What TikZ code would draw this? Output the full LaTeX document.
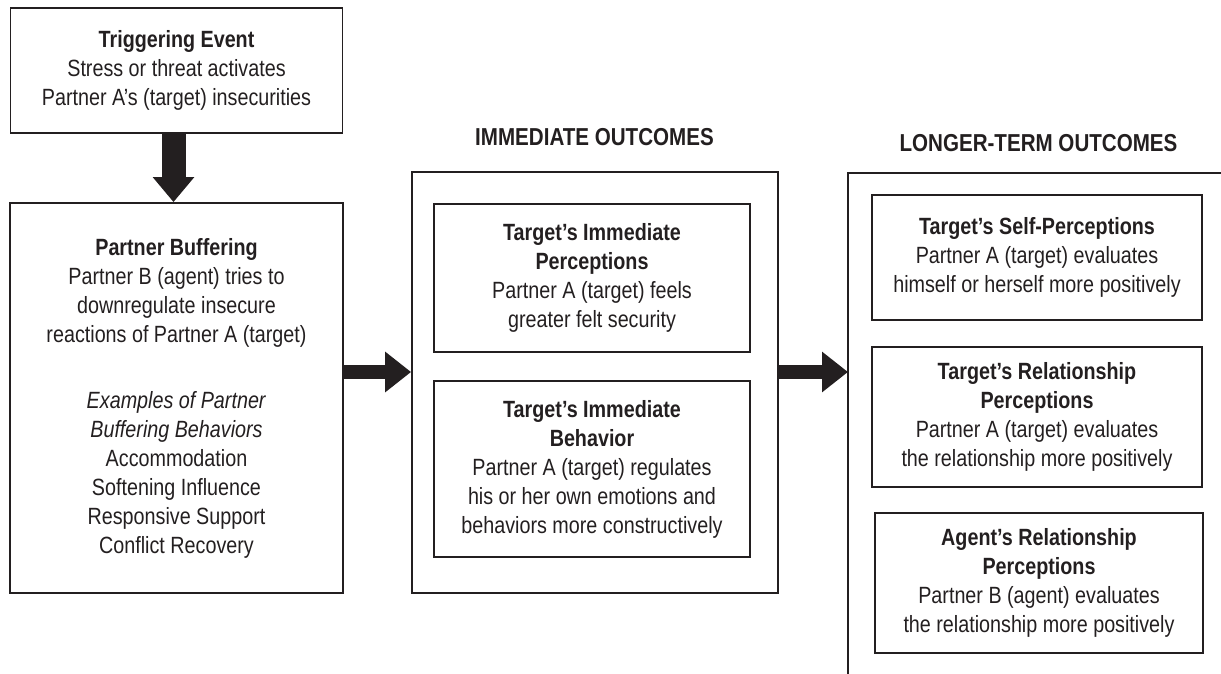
\documentclass[tikz,border=0pt]{standalone}
\usepackage{fontspec}
\setmainfont{Liberation Sans}[FakeStretch=0.84]
\usetikzlibrary{arrows.meta,%
	positioning%
}
\definecolor{ink}{HTML}{231F20}

\begin{document}
\begin{tikzpicture}[x=1pt, y=-1pt, color=ink, font=\fontsize{23.5}{29}\selectfont]
	\useasboundingbox (0,0) rectangle (1221,674);
	\begin{scope}[every node/.style={draw, rectangle, align=center, inner sep=0pt, line width=1.8pt}]
	\node[minimum width=332pt, minimum height=125pt] (TE) at (176.5,70.5) {\textbf{Triggering Event}\\Stress or threat activates\\Partner A’s (target) insecurities};
	\node[minimum width=333pt, minimum height=390pt] (PB) at (176.5,398) {\textbf{Partner Buffering}\\Partner B (agent) tries to\\downregulate insecure\\reactions of Partner A (target)\\[37pt]\textit{Examples of Partner}\\\textit{Buffering Behaviors}\\Accommodation\\Softening Influence\\Responsive Support\\Conflict Recovery};
	\node[minimum width=366pt, minimum height=421pt] (IO) at (595,382.5) {};
	\end{scope}
	
	\begin{scope}[every node/.style={font=\bfseries\fontsize{24.5}{30}\selectfont}]
	\node (IH) at (594.5,137) {IMMEDIATE OUTCOMES};
	\node (LH) at (1038.5,143) {LONGER-TERM OUTCOMES};
	\end{scope}
	
	\begin{scope}[every node/.style={draw, rectangle, align=center, inner sep=0pt, line width=1.3pt}]
	\node[minimum width=316pt, minimum height=148pt] (IP) at (592,278) {\textbf{Target’s Immediate}\\\textbf{Perceptions}\\Partner A (target) feels\\greater felt security};
	\node[minimum width=316pt, minimum height=176pt] (IB) at (592,469) {\textbf{Target’s Immediate}\\\textbf{Behavior}\\Partner A (target) regulates\\his or her own emotions and\\behaviors more constructively};
	\node[minimum width=330pt, minimum height=125pt] (SP) at (1037,257.5) {\textbf{Target’s Self-Perceptions}\\Partner A (target) evaluates\\himself or herself more positively};
	\node[minimum width=330pt, minimum height=140pt] (RP) at (1037,417) {\textbf{Target’s Relationship}\\\textbf{Perceptions}\\Partner A (target) evaluates\\the relationship more positively};
	\node[minimum width=328pt, minimum height=140pt] (AP) at (1039,583) {\textbf{Agent’s Relationship}\\\textbf{Perceptions}\\Partner B (agent) evaluates\\the relationship more positively};
	\end{scope}
	
	% open frame of the longer-term outcomes
	\draw[line width=1.8pt] (1221,173) -- (848,173) -- (848,674);
	\coordinate (LT) at (848,372);
	
	\path[draw, line width=24pt, -{Triangle[length=25pt, width=40pt]}] ([xshift=-3pt]TE.south) -- ([xshift=-3pt]PB.north);
	\begin{scope}[every path/.style={draw, line width=14pt, -{Triangle[length=26pt, width=39pt]}}]
	\path ([yshift=26pt]PB.east) -- ([yshift=10.5pt]IO.west);
	\path ([yshift=10.5pt]IO.east) -- (LT);
	\end{scope}
\end{tikzpicture}
\end{document}
